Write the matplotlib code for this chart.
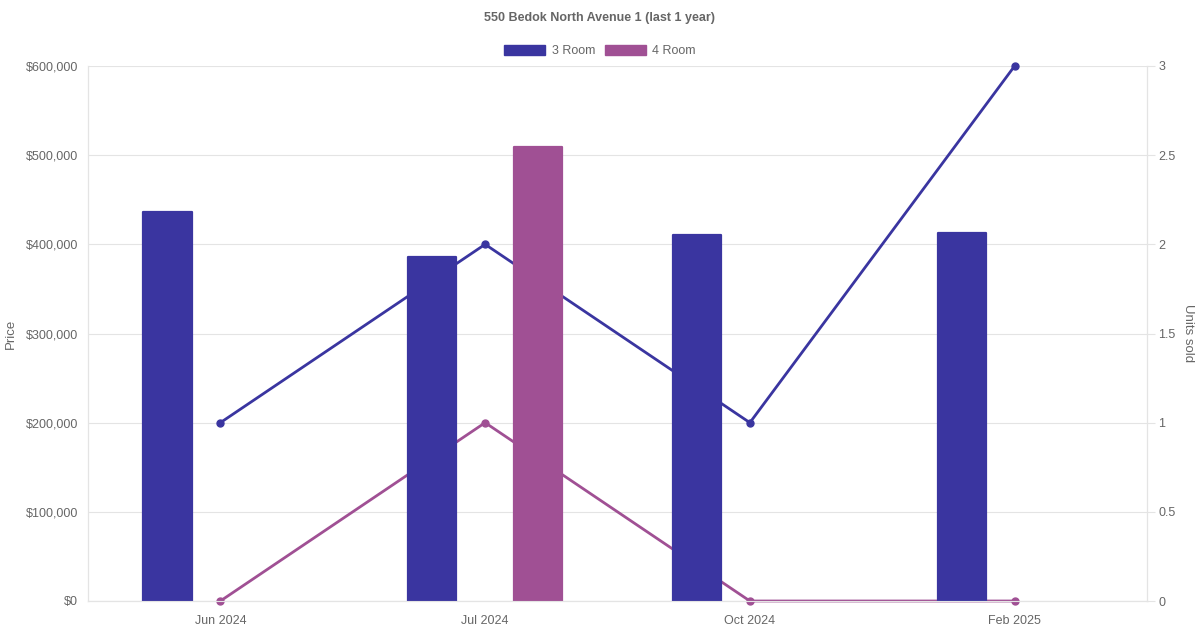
import matplotlib.pyplot as plt
from matplotlib.patches import Patch
from matplotlib.ticker import FuncFormatter, MultipleLocator

plt.rcParams['font.family'] = ['Liberation Sans', 'DejaVu Sans']

months = ['Jun 2024', 'Jul 2024', 'Oct 2024', 'Feb 2025']
price_3room = [436000, 386000, 410000, 413000]
price_4room = [None, 509000, None, None]
units_3room = [1, 2, 1, 3]
units_4room = [0, 1, 0, 0]

c3 = '#3a35a0'
c4 = '#a05094'
grid_c = '#e4e4e4'
txt_c = '#666666'

fig = plt.figure(figsize=(12, 6.3), dpi=100)
ax = fig.add_axes([88/1200, 29/630, (1147-88)/1200, (601-66)/630])
ax2 = ax.twinx()

x = list(range(len(months)))
w = 0.182
off = 0.2

# lines on the right axis, drawn behind the bars
ax2.plot(x, units_3room, color=c3, lw=2.0, marker='o', ms=5, zorder=3, clip_on=False)
ax2.plot(x, units_4room, color=c4, lw=2.0, marker='o', ms=5, zorder=3, clip_on=False)
ax2.set_ylim(0, 3)
ax2.set_xlim(-0.5, len(months) - 0.5)
ax2.yaxis.set_major_locator(MultipleLocator(0.5))
ax2.yaxis.set_major_formatter(FuncFormatter(lambda v, p: f'{v:g}'))
ax2.grid(axis='y', color=grid_c, lw=0.8, zorder=0)
ax2.set_axisbelow(True)
ax2.tick_params(axis='y', colors=grid_c, labelcolor=txt_c, labelsize=9, length=6, width=0.8, pad=2)
ax2.set_ylabel('Units sold', color=txt_c, fontsize=9.5, rotation=270, va='center')
ax2.yaxis.set_label_coords((1188 - 88) / 1059, 0.5)

# bars on the left axis, on top
ax.set_zorder(ax2.get_zorder() + 1)
ax.patch.set_visible(False)

for i in x:
    ax.bar(i - off, price_3room[i], width=w, color=c3, ec=c3, lw=1.6,
           joinstyle='round', zorder=2)
    if price_4room[i] is not None:
        ax.bar(i + off, price_4room[i], width=w, color=c4, ec=c4, lw=1.6,
               joinstyle='round', zorder=2)

ax.set_xlim(-0.5, len(months) - 0.5)
ax.set_ylim(0, 600000)
ax.yaxis.set_major_locator(MultipleLocator(100000))
ax.yaxis.set_major_formatter(FuncFormatter(lambda v, p: f'${v:,.0f}'))
ax.set_xticks(x)
ax.set_xticklabels(months)
ax.tick_params(axis='y', length=0, labelcolor=txt_c, labelsize=9, pad=7)
ax.tick_params(axis='x', length=0, labelcolor=txt_c, labelsize=9, pad=10)
ax.set_ylabel('Price', color=txt_c, fontsize=9.5, va='center')
ax.yaxis.set_label_coords((11 - 88) / 1059, 0.5)

for a in (ax, ax2):
    a.spines['top'].set_visible(False)
    for s in ('left', 'right', 'bottom'):
        a.spines[s].set_color(grid_c)
        a.spines[s].set_linewidth(0.8)
ax2.tick_params(axis='x', length=0)

fig.text(0.5, 1 - 18/630, '550 Bedok North Avenue 1 (last 1 year)', ha='center', va='center',
         fontsize=9, fontweight='bold', color=txt_c)

# legend
handles = [Patch(facecolor=c3, edgecolor=c3), Patch(facecolor=c4, edgecolor=c4)]
fig.legend(handles, ['3 Room', '4 Room'], loc='center', bbox_to_anchor=(0.5, 1 - 51/630),
           ncol=2, frameon=False, fontsize=9, labelcolor=txt_c, handlelength=3.3,
           handleheight=0.8, columnspacing=0.8, handletextpad=0.5)

fig.savefig('out.png', dpi=100)
